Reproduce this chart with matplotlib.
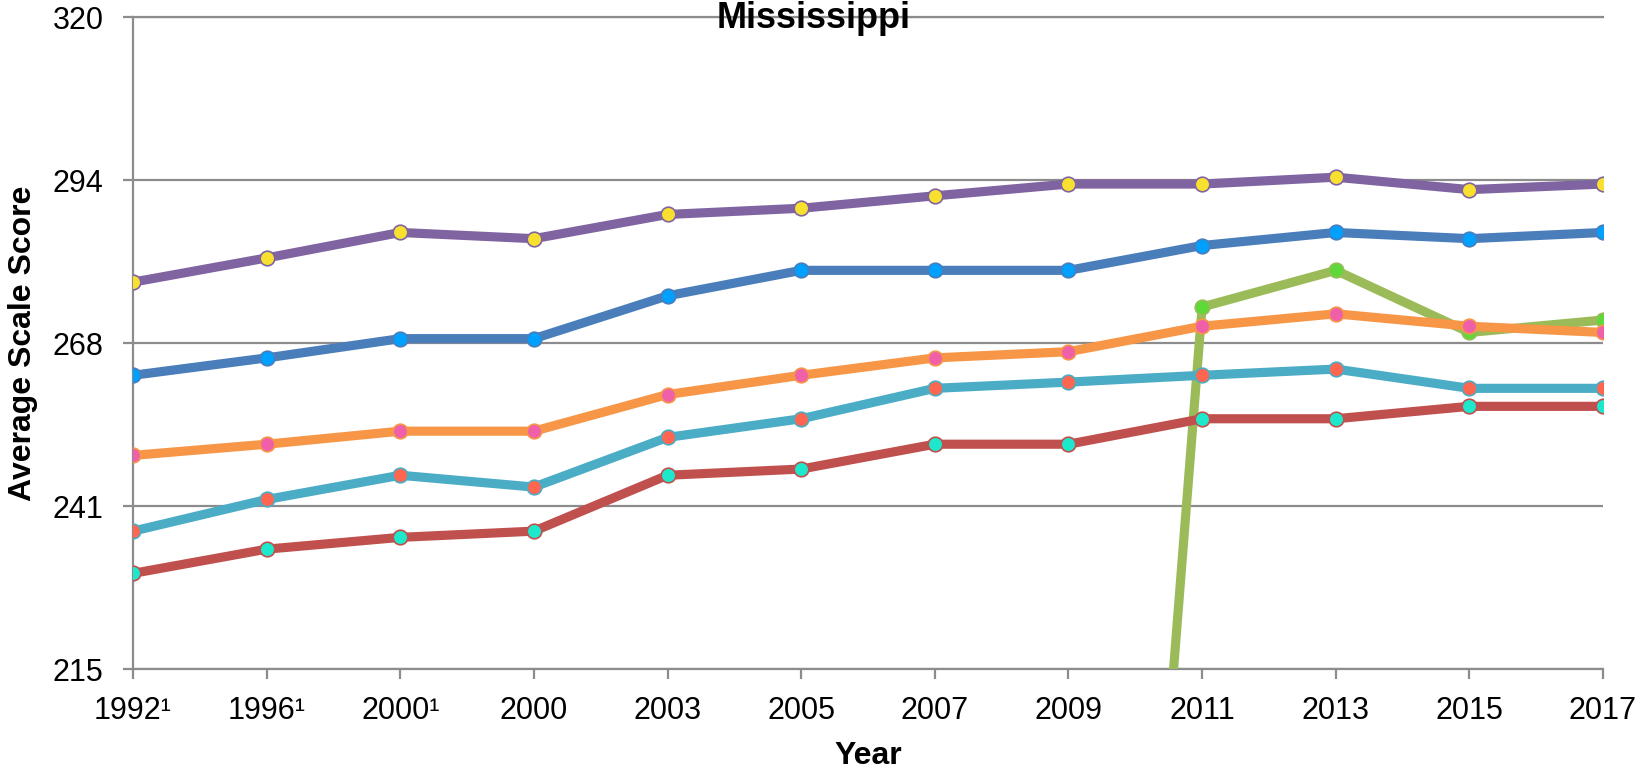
import numpy as np
import matplotlib
matplotlib.use("Agg")
import matplotlib.pyplot as plt

plt.rcParams["font.family"] = ["Liberation Sans", "DejaVu Sans"]

# ── data ───────────────────────────────────────────────────────────────────
years = ["1992¹", "1996¹", "2000¹", "2000", "2003", "2005", "2007", "2009",
         "2011", "2013", "2015", "2017"]
y_ticks = [215, 241.25, 267.5, 293.75, 320]
y_tick_labels = ["215", "241", "268", "294", "320"]

purple_vals = [277.3, 281.2, 285.3, 284.3, 288.2, 289.2, 291.2, 293.1, 293.1, 294.2, 292.2, 293.1]
blue_vals = [262.3, 265.1, 268.2, 268.2, 275.1, 279.2, 279.2, 279.2, 283.2, 285.3, 284.3, 285.3]
green_vals = [0, 0, 0, 0, 0, 0, 0, 0, 273.3, 279.2, 269.2, 271.2]
orange_vals = [249.4, 251.2, 253.3, 253.3, 259.2, 262.3, 265.1, 266.1, 270.2, 272.2, 270.2, 269.2]
teal_vals = [237.2, 242.3, 246.2, 244.3, 252.3, 255.3, 260.2, 261.2, 262.3, 263.3, 260.2, 260.2]
red_vals = [230.4, 234.3, 236.2, 237.2, 246.2, 247.2, 251.2, 251.2, 255.3, 255.3, 257.3, 257.3]

# (values, line colour, marker face colour) — drawn in this order
SERIES = [
    (green_vals, "#9bbb59", "#5fd83a"),
    (red_vals, "#c0504d", "#1de8cc"),
    (teal_vals, "#4bacc6", "#ff6650"),
    (orange_vals, "#f79646", "#f060a8"),
    (blue_vals, "#4a7ebb", "#00a0ff"),
    (purple_vals, "#8064a2", "#f8e030"),
]

GRID = "#8c8c8c"
W, H = 1652, 774

fig = plt.figure(figsize=(W / 100, H / 100), dpi=100)
ax = fig.add_axes([133 / W, 1 - 669 / H, (1603 - 133) / W, (669 - 17) / H])

x = np.arange(len(years))
for vals, lc, mc in SERIES:
    ax.plot(x, vals, color=lc, linewidth=6.6, marker="o", markersize=10.5,
            markerfacecolor=mc, markeredgecolor=lc, markeredgewidth=1.2,
            solid_joinstyle="miter", zorder=3)

ax.set_xlim(0, len(years) - 1)
ax.set_ylim(215, 320)
ax.set_xticks(x)
ax.set_xticklabels(years)
ax.set_yticks(y_ticks)
ax.set_yticklabels(y_tick_labels)

ax.yaxis.grid(True, color=GRID, linewidth=1.6)
ax.set_axisbelow(True)
for side in ["left", "bottom", "top"]:
    ax.spines[side].set_color(GRID)
    ax.spines[side].set_linewidth(1.6)
ax.spines["right"].set_visible(False)

ax.tick_params(axis="both", length=7.2, width=1.6, color=GRID, labelsize=22)
ax.tick_params(axis="y", pad=14)
ax.tick_params(axis="x", pad=12)

fig.text(814 / W, 1 - 28 / H, "Mississippi", ha="center", va="baseline",
         fontsize=26, fontweight="bold")
fig.text(23 / W, 1 - 343 / H, "Average Scale Score", rotation=90,
         ha="center", va="center", fontsize=23, fontweight="bold")
fig.text(868 / W, 1 - 756 / H, "Year", ha="center", va="center",
         fontsize=23, fontweight="bold")

fig.savefig("out.png", dpi=100)
